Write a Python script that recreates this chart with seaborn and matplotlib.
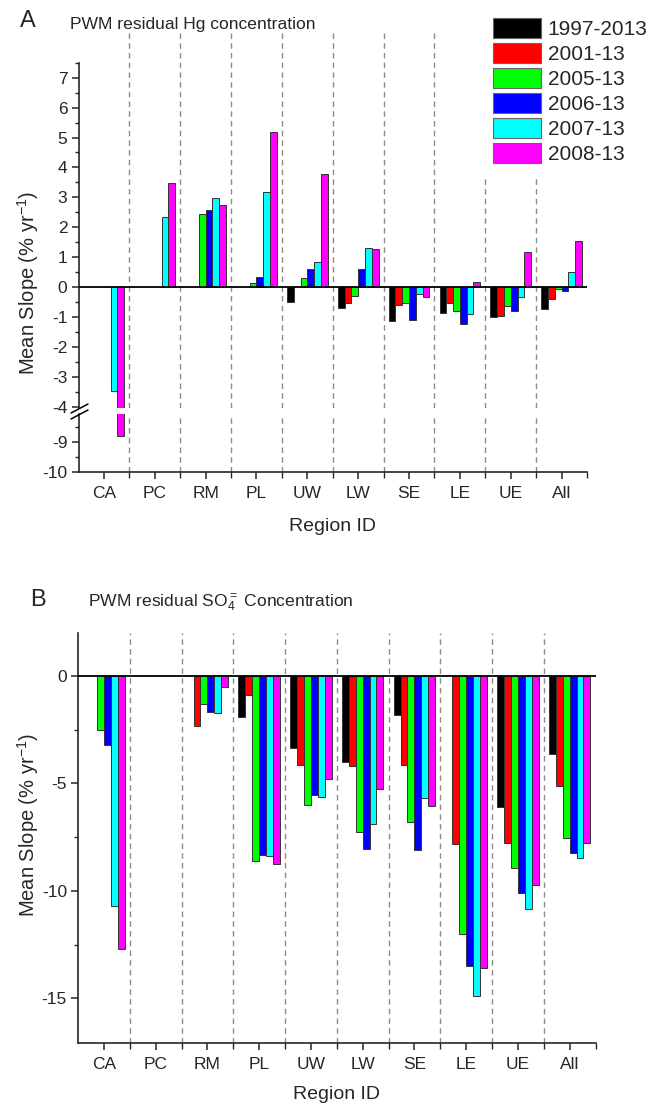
import numpy as np
import pandas as pd
import matplotlib
matplotlib.use('Agg')
import matplotlib.pyplot as plt
import matplotlib.ticker as mticker
from matplotlib.lines import Line2D
import seaborn as sns

nan = np.nan

# 区域 / 时段
regions = ['CA', 'PC', 'RM', 'PL', 'UW', 'LW', 'SE', 'LE', 'UE', 'All']
periods = ['1997-2013', '2001-13', '2005-13', '2006-13', '2007-13', '2008-13']
colors = ['#000000', '#FF0000', '#00FF00', '#0000FF', '#00FFFF', '#FF00FF']

# A: PWM residual Hg (% yr-1)
hg_1997 = [nan, nan, nan, nan, -0.50, -0.71, -1.13, -0.87, -0.99, -0.72]
hg_2001 = [nan, nan, nan, nan, nan, -0.52, -0.59, -0.55, -0.97, -0.40]
hg_2005 = [nan, nan, 2.45, 0.12, 0.29, -0.29, -0.52, -0.79, -0.64, -0.08]
hg_2006 = [nan, nan, 2.58, 0.35, 0.61, 0.60, -1.09, -1.23, -0.81, -0.12]
hg_2007 = [-3.49, 2.34, 2.98, 3.17, 0.82, 1.32, -0.23, -0.90, -0.33, 0.50]
hg_2008 = [-8.80, 3.47, 2.74, 5.18, 3.78, 1.28, -0.35, 0.17, 1.18, 1.55]

# B: PWM residual SO4 (% yr-1)
so4_1997 = [nan, nan, nan, -1.92, -3.36, -4.02, -1.81, nan, -6.09, -3.63]
so4_2001 = [nan, nan, -2.33, -0.90, -4.16, -4.19, -4.14, -7.81, -7.75, -5.12]
so4_2005 = [-2.51, nan, -1.30, -8.62, -5.98, -7.24, -6.79, -12.02, -8.91, -7.55]
so4_2006 = [-3.22, nan, -1.67, -8.33, -5.55, -8.05, -8.08, -13.49, -10.08, -8.22]
so4_2007 = [-10.71, nan, -1.72, -8.36, -5.64, -6.87, -5.67, -14.90, -10.84, -8.47]
so4_2008 = [-12.70, nan, -0.50, -8.76, -4.79, -5.26, -6.06, -13.57, -9.74, -7.77]


def to_long(series):
    rows = []
    for p, vals in zip(periods, series):
        for r, v in zip(regions, vals):
            if not np.isnan(v):
                rows.append({'region': r, 'period': p, 'value': v})
    return pd.DataFrame(rows)


hg_df = to_long([hg_1997, hg_2001, hg_2005, hg_2006, hg_2007, hg_2008])
so4_df = to_long([so4_1997, so4_2001, so4_2005, so4_2006, so4_2007, so4_2008])
palette = dict(zip(periods, colors))

sns.set_style('ticks')
plt.rcParams['font.family'] = ['Liberation Sans', 'DejaVu Sans']
plt.rcParams['axes.unicode_minus'] = False
plt.rcParams['mathtext.fontset'] = 'custom'
plt.rcParams['mathtext.rm'] = 'Liberation Sans'
plt.rcParams['mathtext.it'] = 'Liberation Sans:italic'
plt.rcParams['mathtext.bf'] = 'Liberation Sans:bold'

W, H = 651, 1106
fig = plt.figure(figsize=(W / 100, H / 100), dpi=100)


def px_axes(x0, x1, ytop, ybot):
    return fig.add_axes([x0 / W, 1 - ybot / H, (x1 - x0) / W, (ybot - ytop) / H])


def bars(ax, df, legend=False):
    sns.barplot(data=df, x='region', y='value', hue='period', order=regions,
                hue_order=periods, palette=palette, saturation=1, errorbar=None,
                width=0.8, edgecolor='#333333', linewidth=0.7, ax=ax, legend=legend)
    for b in np.arange(0.5, 9, 1):
        ax.axvline(b, color='#8c8c8c', ls=(0, (4, 3)), lw=1, zorder=0.5)
    ax.axhline(0, color='black', lw=1.3, zorder=3)
    ax.set_xlim(-0.5, 9.5)
    ax.set_xlabel('')
    ax.set_ylabel('')
    sns.despine(ax=ax)
    for s in ['left', 'bottom']:
        ax.spines[s].set_linewidth(1.2)
    ax.tick_params(which='major', direction='out', length=5, width=1.1, labelsize=12.5, pad=3)
    ax.tick_params(which='minor', direction='out', length=3, width=1.0)


def x_axis(ax):
    ax.xaxis.set_minor_locator(mticker.FixedLocator(np.arange(0.5, 10, 1)))
    ax.tick_params(axis='x', which='minor', length=4)
    ax.tick_params(axis='x', which='major', pad=5)


# ---- Panel A: 断轴 ----
px_per = 29.9
ax_top = px_axes(78.5, 587, 287 - 8.6 * px_per, 287 + 4.05 * px_per)
ax_bot = px_axes(78.5, 587, 472 - 1.95 * px_per, 472)

bars(ax_top, hg_df, legend=True)
handles, labels = ax_top.get_legend_handles_labels()
ax_top.get_legend().remove()
bars(ax_bot, hg_df)

ax_top.set_ylim(-4.05, 8.6)
ax_top.spines['left'].set_bounds(-4.05, 7.5)
ax_top.spines['bottom'].set_visible(False)
ax_top.yaxis.set_major_locator(mticker.FixedLocator(np.arange(-4, 8, 1)))
ax_top.yaxis.set_minor_locator(mticker.FixedLocator(np.arange(-3.5, 8, 1)))
ax_top.set_xticks([])
ax_top.tick_params(axis='x', which='both', bottom=False, labelbottom=False)

ax_bot.set_ylim(-10, -8.05)
ax_bot.yaxis.set_major_locator(mticker.FixedLocator([-10, -9]))
ax_bot.yaxis.set_minor_locator(mticker.FixedLocator([-9.5, -8.5]))
x_axis(ax_bot)
ax_bot.set_xlabel('Region ID', fontsize=14, labelpad=12)

# break marks
for dy in (0, 6):
    fig.add_artist(Line2D([71 / W, 88 / W], [1 - (413 + dy) / H, 1 - (404 + dy) / H],
                          transform=fig.transFigure, color='black', lw=1.1))

fig.text(20 / W, 1 - 21 / H, 'A', fontsize=17, va='center', ha='left')
fig.text(70 / W, 1 - 25 / H, 'PWM residual Hg concentration', fontsize=12.6, va='center', ha='left')
fig.text(28 / W, 1 - 283 / H, 'Mean Slope (% yr$^{-1}$)', fontsize=14.5, rotation=90,
         va='center', ha='center')

leg = fig.legend(handles, labels, loc='upper left', bbox_to_anchor=(483 / W, 1 - 8 / H),
                 fontsize=15, frameon=True, facecolor='white', edgecolor='none', framealpha=1,
                 fancybox=False, borderpad=0.5, borderaxespad=0, handlelength=2.26,
                 handleheight=1.06, handletextpad=0.35, labelspacing=0.2)
for h in leg.legend_handles:
    h.set_edgecolor('#666666')
    h.set_linewidth(0.8)

# ---- Panel B ----
ax_b = px_axes(78, 595.5, 633, 1043)
bars(ax_b, so4_df)
ax_b.set_ylim(-17.07, 2.0)
ax_b.yaxis.set_major_locator(mticker.FixedLocator([-15, -10, -5, 0]))
ax_b.yaxis.set_minor_locator(mticker.FixedLocator([-12.5, -7.5, -2.5]))
x_axis(ax_b)
ax_b.set_xlabel('Region ID', fontsize=14, labelpad=10)

fig.text(30 / W, 1 - 600 / H, 'B', fontsize=17, va='center', ha='left')
fig.text(88 / W, 1 - 603 / H, 'PWM residual SO$_4^{=}$ Concentration', fontsize=12.6,
         va='center', ha='left')
fig.text(28 / W, 1 - 825 / H, 'Mean Slope (% yr$^{-1}$)', fontsize=14.5, rotation=90,
         va='center', ha='center')

fig.savefig('out.png', dpi=100)
